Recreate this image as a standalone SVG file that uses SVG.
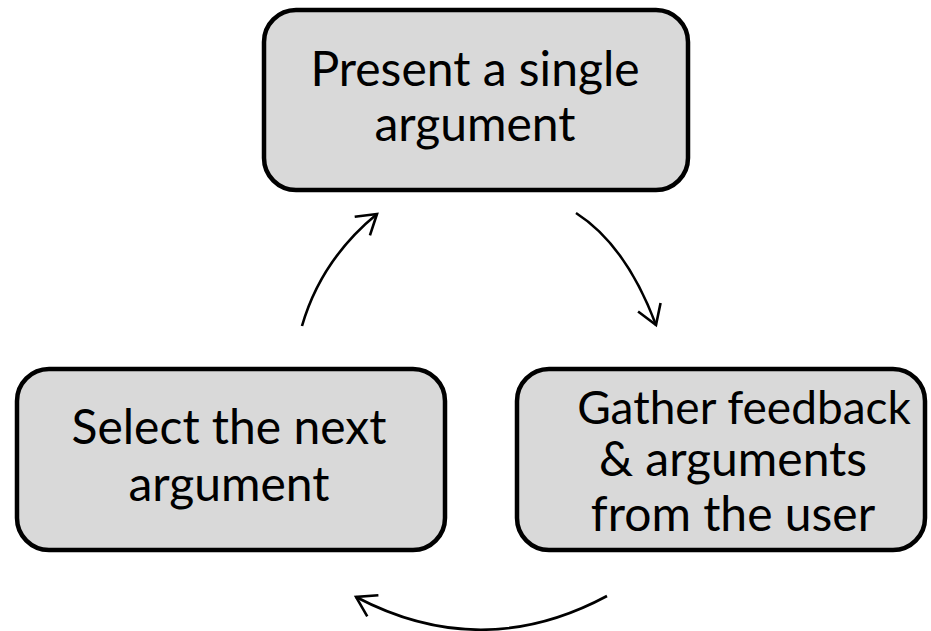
<svg xmlns="http://www.w3.org/2000/svg" width="931" height="631" viewBox="0 0 931 631">
<defs>
<style>
.box{fill:#d9d9d9;stroke:#000;stroke-width:4.5}
.lbl{font-family:Lato,"Open Sans","Liberation Sans",sans-serif;font-size:48px;fill:#000;text-anchor:middle}
.sm{font-size:46px}
.conn{fill:none;stroke:#000;stroke-width:2.6}
</style>
<marker id="ah" markerUnits="userSpaceOnUse" markerWidth="30" markerHeight="30" viewBox="-22 -15 24 30" refX="0" refY="0" orient="auto">
<path d="M-19,-12 L0,0 L-19,12" fill="none" stroke="#000" stroke-width="2.6" stroke-linejoin="miter"/>
</marker>
</defs>
<rect width="931" height="631" fill="#fff"/>
<g id="connectors">
<path class="conn" d="M302,326 Q321,260 377,214" marker-end="url(#ah)"/>
<path class="conn" d="M576,213 Q626,245 656,325" marker-end="url(#ah)"/>
<path class="conn" d="M607,596 Q482,663 356,597" marker-end="url(#ah)"/>
</g>
<g id="node-present">
<rect class="box" x="264" y="10" width="424" height="180" rx="32"/>
<text class="lbl" x="475" y="86">Present a single</text>
<text class="lbl" x="475" y="141">argument</text>
</g>
<g id="node-select">
<rect class="box" x="17" y="369" width="428" height="181" rx="32"/>
<text class="lbl" x="229" y="444">Select the next</text>
<text class="lbl" x="229" y="501">argument</text>
</g>
<g id="node-gather">
<rect class="box" x="517" y="369" width="408" height="181" rx="32"/>
<text class="lbl sm" x="744" y="424">Gather feedback</text>
<text class="lbl" x="733" y="476">&amp; arguments</text>
<text class="lbl" x="733" y="531">from the user</text>
</g>
</svg>
